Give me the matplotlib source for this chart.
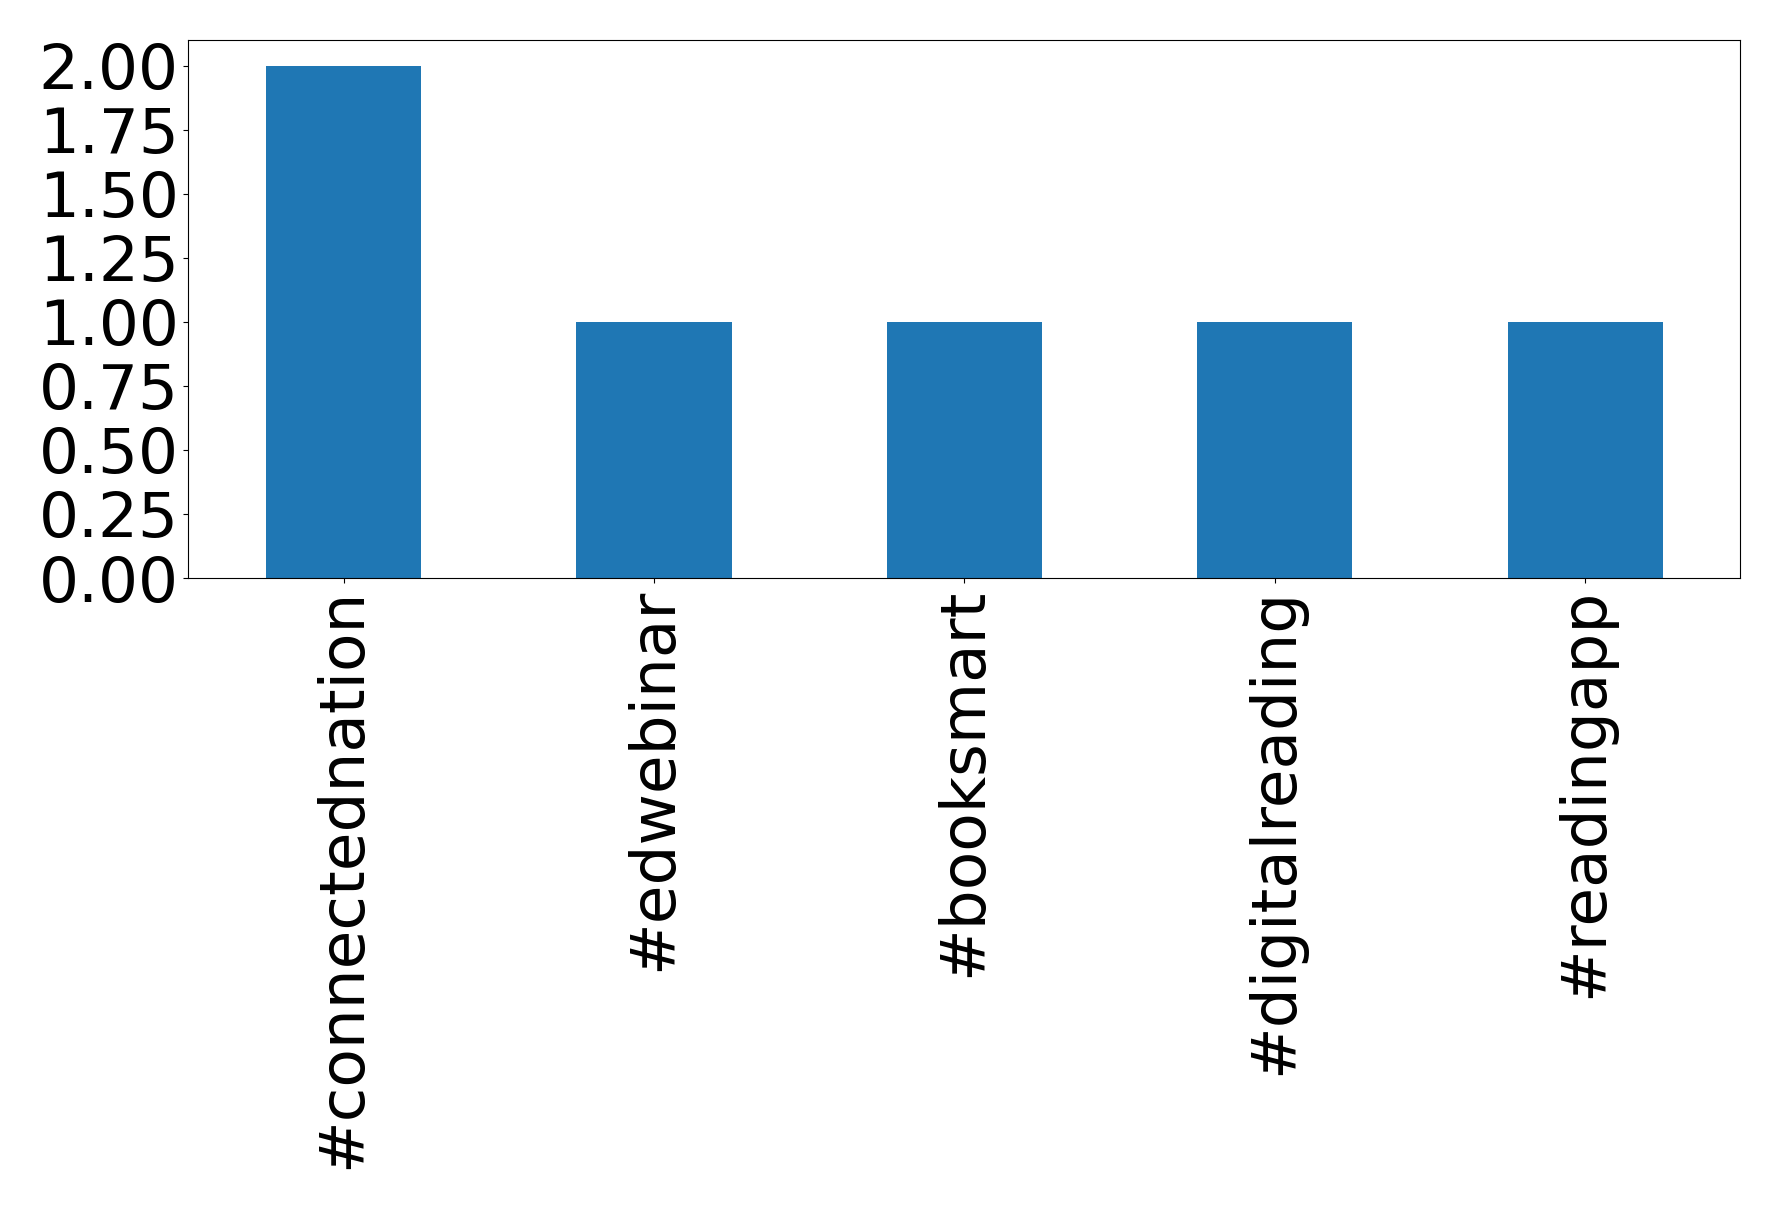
import matplotlib
matplotlib.use("Agg")
import matplotlib.pyplot as plt

categories = ["#connectednation", "#edwebinar", "#booksmart", "#digitalreading", "#readingapp"]
values = [2, 1, 1, 1, 1]
yticks = [0, 0.25, 0.5, 0.75, 1.0, 1.25, 1.5, 1.75, 2.0]

fig = plt.figure(figsize=(17.78, 12.05), dpi=100)
ax = fig.add_axes([0.1059, 0.5203, 0.873, 0.4465])
x = list(range(len(categories)))
ax.bar(x, values, width=0.5, color="#1f77b4")
ax.set_xlim(-0.5, len(categories) - 0.5)
ax.set_ylim(0, 2.1)
ax.set_yticks(yticks)
ax.set_yticklabels([f"{v:.2f}" for v in yticks])
ax.set_xticks(x)
ax.set_xticklabels(categories, rotation=90)
ax.tick_params(labelsize=45.3)
fig.savefig("out.png", dpi=100)
